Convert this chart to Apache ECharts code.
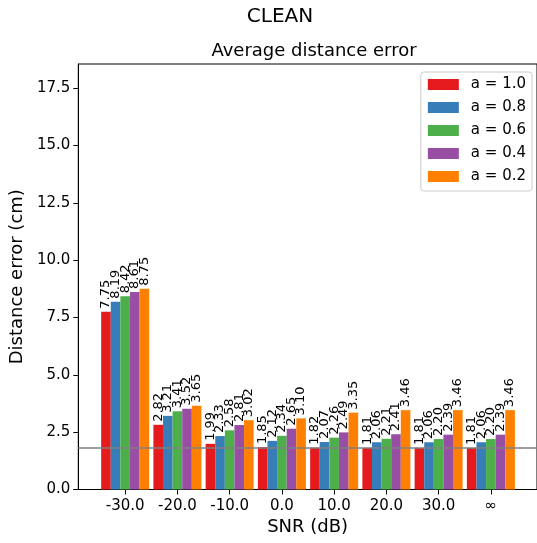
<!DOCTYPE html>
<html><head><meta charset="utf-8">
<script src="https://cdn.jsdelivr.net/npm/echarts@6/dist/echarts.min.js"></script>
<style>html,body{margin:0;padding:0;background:#fff}#c{width:537px;height:543px}</style>
</head><body><div id="c"></div>
<script>
const categories = ['-30.0', '-20.0', '-10.0', '0.0', '10.0', '20.0', '30.0', '\u221e'];
const seriesNames = ['a = 1.0', 'a = 0.8', 'a = 0.6', 'a = 0.4', 'a = 0.2'];
const a10 = [7.75, 2.82, 1.99, 1.85, 1.82, 1.81, 1.81, 1.81];
const a08 = [8.19, 3.21, 2.33, 2.12, 2.07, 2.06, 2.06, 2.06];
const a06 = [8.42, 3.41, 2.58, 2.34, 2.26, 2.21, 2.20, 2.20];
const a04 = [8.61, 3.52, 2.81, 2.65, 2.49, 2.41, 2.39, 2.39];
const a02 = [8.75, 3.65, 3.02, 3.10, 3.35, 3.46, 3.46, 3.46];
const refLine = 1.81;
const yTicks = [0, 2.5, 5, 7.5, 10, 12.5, 15, 17.5];

const colors = ['#e41a1c', '#377eb8', '#4daf4a', '#984ea3', '#ff7f00'];
const allVals = [a10, a08, a06, a04, a02];
const FONT = 'DejaVu Sans';
const xIdx = categories.map((c, i) => i);

const series = allVals.map((vals, k) => ({
  name: seriesNames[k],
  type: 'bar',
  barWidth: 9.6,
  barGap: '0%',
  itemStyle: { color: colors[k] },
  data: vals.map((v, i) => [i, v]),
  label: {
    show: true, position: 'top', rotate: 90, align: 'left', verticalAlign: 'middle',
    distance: 3, fontFamily: FONT, fontSize: 13, color: '#000',
    formatter: p => p.value[1].toFixed(2)
  },
  markLine: k === 0 ? {
    silent: true, symbol: 'none', animation: false,
    label: { show: false },
    lineStyle: { color: '#808080', width: 1.5, type: 'solid' },
    data: [{ yAxis: refLine }]
  } : undefined
}));

const chart = echarts.init(document.getElementById('c'), null, { renderer: 'canvas' });
chart.setOption({
  animation: false,
  title: [
    { text: 'CLEAN', left: 275, textAlign: 'center', top: 2, textStyle: { fontFamily: FONT, fontSize: 20, fontWeight: 'normal', color: '#000' } },
    { text: 'Average distance error', left: 309, textAlign: 'center', top: 37, textStyle: { fontFamily: FONT, fontSize: 18, fontWeight: 'normal', color: '#000' } }
  ],
  legend: {
    right: 5, top: 72, orient: 'vertical', icon: 'rect', itemWidth: 31, itemHeight: 11, itemGap: 8,
    padding: [5, 6, 7, 7], borderColor: '#cccccc', borderWidth: 1, borderRadius: 3, backgroundColor: '#fff',
    textStyle: { fontFamily: FONT, fontSize: 15, color: '#000', padding: [0, 0, 0, 7] },
    data: seriesNames
  },
  grid: { left: 74, width: 467, top: 64, bottom: 53.5, show: true, borderColor: '#000', borderWidth: 1, backgroundColor: 'transparent' },
  xAxis: {
    type: 'value', min: -0.897, max: 7.883,
    name: 'SNR (dB)', nameLocation: 'middle', nameGap: 28,
    nameTextStyle: { fontFamily: FONT, fontSize: 18, color: '#000' },
    axisLine: { show: true, onZero: false, lineStyle: { color: '#000' } },
    axisTick: { show: true, customValues: xIdx, length: 5, lineStyle: { color: '#000' } },
    axisLabel: { customValues: xIdx, fontFamily: FONT, fontSize: 15, color: '#000', margin: 9,
      formatter: v => categories[Math.round(v)] },
    splitLine: { show: false }
  },
  yAxis: {
    type: 'value', min: 0, max: 18.55,
    name: 'Distance error (cm)', nameLocation: 'middle', nameGap: 43,
    nameTextStyle: { fontFamily: FONT, fontSize: 18, color: '#000' },
    axisLine: { show: true, onZero: false, lineStyle: { color: '#000' } },
    axisTick: { show: true, customValues: yTicks, length: 5, lineStyle: { color: '#000' } },
    axisLabel: { customValues: yTicks, fontFamily: FONT, fontSize: 15, color: '#000', margin: 8,
      formatter: v => v.toFixed(1) },
    splitLine: { show: false }
  },
  series: series
});
</script></body></html>
